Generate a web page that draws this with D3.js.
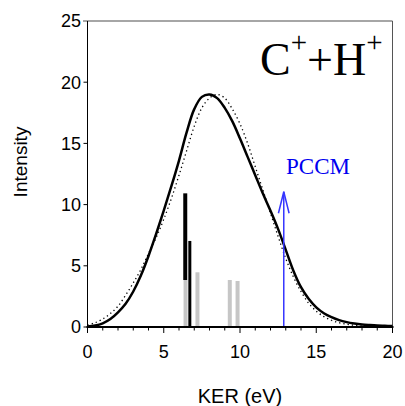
<!DOCTYPE html>
<html>
<head>
<meta charset="utf-8">
<script src="https://cdn.jsdelivr.net/npm/d3@7"></script>
<style>
  body { margin: 0; background: #fff; }
  svg { display: block; }
</style>
</head>
<body>
<svg id="chart"></svg>
<script>
// KER grid for both curves (eV)
const kerGrid = [0, 0.5, 1, 1.5, 2, 2.5, 3, 3.5, 4, 4.5, 5, 5.5, 6, 6.5, 7, 7.5, 8, 8.5, 9, 9.5,
  10, 10.5, 11, 11.5, 12, 12.5, 13, 13.5, 14, 14.5, 15, 15.5, 16, 16.5, 17, 17.5, 18, 18.5, 19, 19.5, 20];
// solid curve
const solidI = [0.05, 0.12, 0.3, 0.65, 1.2, 1.9, 2.9, 4.2, 5.8, 7.6, 9.5, 11.5, 13.6, 15.9, 17.8, 18.8, 19.0, 18.7, 17.9, 16.8,
  15.4, 13.9, 12.4, 10.9, 9.5, 8.0, 6.3, 4.6, 3.25, 2.3, 1.6, 1.12, 0.8, 0.56, 0.4, 0.29, 0.21, 0.16, 0.12, 0.1, 0.08];
// dotted curve
const dottedI = [0.15, 0.35, 0.65, 1.1, 1.7, 2.6, 3.6, 4.7, 6.0, 7.3, 8.8, 10.5, 12.4, 14.4, 16.4, 17.9, 18.7, 19.0, 18.7, 17.8,
  16.6, 15.0, 13.1, 11.2, 9.3, 7.4, 5.6, 4.1, 2.9, 1.95, 1.3, 0.85, 0.55, 0.35, 0.22, 0.14, 0.09, 0.06, 0.04, 0.03, 0.02];

// black sticks (floating first one)
const blackKER = [6.41, 6.71];
const blackLow = [3.84, 0];
const blackHigh = [10.92, 7.03];
// gray sticks
const grayKER = [6.43, 7.21, 9.33, 9.84];
const grayI = [3.84, 4.47, 3.84, 3.76];

// PCCM arrow
const pccmKER = 12.87;
const pccmI = 11.05;

const xTicks = [0, 5, 10, 15, 20];
const xMinorTicks = d3.range(0, 21, 1);
const yTicks = [0, 5, 10, 15, 20, 25];

const width = 405, height = 406;
const svg = d3.select("#chart").attr("width", width).attr("height", height);

const x = d3.scaleLinear().domain([0, 20]).range([87.5, 392.5]);
const y = d3.scaleLinear().domain([0, 25]).range([327, 21]);

// frame: gray top and right
svg.append("line")
  .attr("x1", 83).attr("x2", x(20)).attr("y1", y(25)).attr("y2", y(25))
  .attr("stroke", "#888").attr("stroke-width", 1.5);
svg.append("line")
  .attr("x1", x(20)).attr("x2", x(20)).attr("y1", y(25)).attr("y2", y(0))
  .attr("stroke", "#555").attr("stroke-width", 1);

// gray sticks first so the black one sits on top
svg.selectAll(".gray")
  .data(grayKER)
  .enter()
  .append("line")
  .attr("x1", (d) => x(d)).attr("x2", (d) => x(d))
  .attr("y1", y(0)).attr("y2", (d, i) => y(grayI[i]))
  .attr("stroke", "#c6c6c6").attr("stroke-width", 4);

svg.selectAll(".black")
  .data(blackKER)
  .enter()
  .append("line")
  .attr("x1", (d) => x(d)).attr("x2", (d) => x(d))
  .attr("y1", (d, i) => y(blackLow[i])).attr("y2", (d, i) => y(blackHigh[i]))
  .attr("stroke", "#000").attr("stroke-width", (d, i) => (i === 0 ? 4 : 3));

// curves
const line = d3.line()
  .x((d) => x(d[0]))
  .y((d) => y(d[1]))
  .curve(d3.curveCatmullRom.alpha(0.5));

svg.append("path")
  .datum(kerGrid.map((k, i) => [k, dottedI[i]]))
  .attr("d", line)
  .attr("fill", "none")
  .attr("stroke", "#000")
  .attr("stroke-width", 1.3)
  .attr("stroke-dasharray", "1.3,3");

svg.append("path")
  .datum(kerGrid.map((k, i) => [k, solidI[i]]))
  .attr("d", line)
  .attr("fill", "none")
  .attr("stroke", "#000")
  .attr("stroke-width", 2.5);

// PCCM arrow
const blue = "#3535ff";
svg.append("line")
  .attr("x1", x(pccmKER)).attr("x2", x(pccmKER))
  .attr("y1", y(0)).attr("y2", y(pccmI))
  .attr("stroke", blue).attr("stroke-width", 1.5);
svg.append("path")
  .attr("d", d3.line()([
    [x(pccmKER - 0.35), y(pccmI - 1.76)],
    [x(pccmKER), y(pccmI)],
    [x(pccmKER + 0.35), y(pccmI - 1.76)]
  ]))
  .attr("fill", "none").attr("stroke", blue).attr("stroke-width", 1.5);
svg.append("text")
  .attr("x", 286).attr("y", 174)
  .attr("font-family", "Liberation Serif, Times New Roman, serif")
  .attr("font-size", 23)
  .attr("fill", "#0000f0")
  .text("PCCM");

// axes
const xAxis = svg.append("g").attr("transform", `translate(0,${y(0)})`);
xAxis.selectAll(".minor")
  .data(xMinorTicks)
  .enter()
  .append("line")
  .attr("x1", (d) => x(d)).attr("x2", (d) => x(d))
  .attr("y1", 0).attr("y2", (d) => (d % 5 === 0 ? 6 : 3.5))
  .attr("stroke", "#000").attr("stroke-width", 1);
xAxis.append("line")
  .attr("x1", x(0) - 1).attr("x2", x(20) + 1)
  .attr("stroke", "#000").attr("stroke-width", 2);
xAxis.selectAll(".lbl")
  .data(xTicks)
  .enter()
  .append("text")
  .attr("x", (d) => x(d)).attr("y", 31)
  .attr("text-anchor", "middle")
  .attr("font-family", "Liberation Sans, Arial, sans-serif")
  .attr("font-size", 18)
  .text((d) => d);

const yAxis = svg.append("g");
yAxis.append("line")
  .attr("x1", x(0)).attr("x2", x(0)).attr("y1", y(25)).attr("y2", y(0))
  .attr("stroke", "#000").attr("stroke-width", 1);
yAxis.selectAll(".tick")
  .data(yTicks.slice(0, -1))
  .enter()
  .append("line")
  .attr("x1", x(0) - 4).attr("x2", x(0))
  .attr("y1", (d) => y(d)).attr("y2", (d) => y(d))
  .attr("stroke", "#000").attr("stroke-width", 1);
yAxis.selectAll(".lbl")
  .data(yTicks)
  .enter()
  .append("text")
  .attr("x", 81).attr("y", (d) => y(d))
  .attr("dy", "0.35em")
  .attr("text-anchor", "end")
  .attr("font-family", "Liberation Sans, Arial, sans-serif")
  .attr("font-size", 18)
  .text((d) => d);

// axis titles
svg.append("text")
  .attr("x", 240).attr("y", 403)
  .attr("text-anchor", "middle")
  .attr("font-family", "Liberation Sans, Arial, sans-serif")
  .attr("font-size", 20)
  .text("KER (eV)");
svg.append("text")
  .attr("transform", "translate(27,162) rotate(-90)")
  .attr("text-anchor", "middle")
  .attr("font-family", "Liberation Sans, Arial, sans-serif")
  .attr("font-size", 19)
  .text("Intensity");

// C+ + H+ label
const title = svg.append("text")
  .attr("x", 260).attr("y", 75)
  .attr("font-family", "Liberation Serif, Times New Roman, serif")
  .attr("font-size", 46);
title.append("tspan").text("C");
title.append("tspan").attr("font-size", 29).attr("dy", -23).text("+");
title.append("tspan").attr("dy", 23).text("+H");
title.append("tspan").attr("font-size", 29).attr("dy", -23).text("+");
</script>
</body>
</html>
